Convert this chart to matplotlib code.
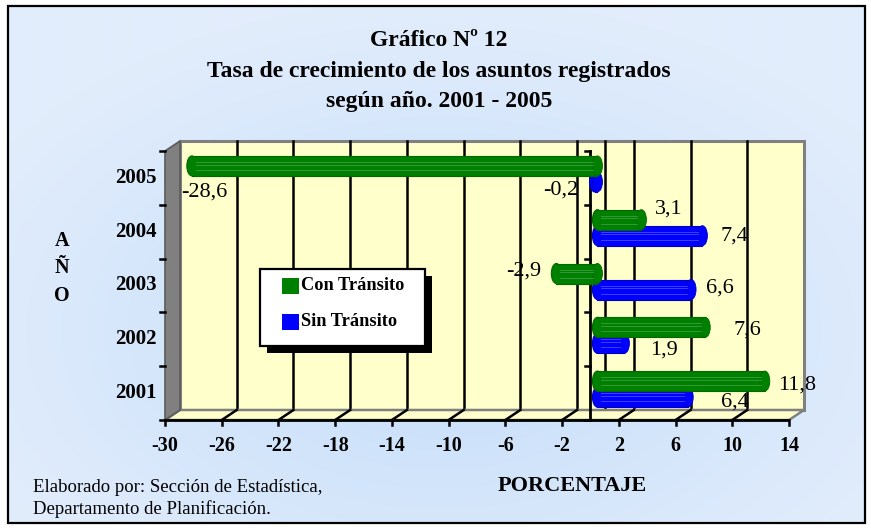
import numpy as np
import matplotlib
matplotlib.use('Agg')
import matplotlib.pyplot as plt
from matplotlib.patches import Rectangle, Polygon, Ellipse

# ---------------- data ----------------
years = ['2001', '2002', '2003', '2004', '2005']
con_transito = [11.8, 7.6, -2.9, 3.1, -28.6]
sin_transito = [6.4, 1.9, 6.6, 7.4, -0.2]
series_names = ['Con Tránsito', 'Sin Tránsito']
x_ticks = [-30, -26, -22, -18, -14, -10, -6, -2, 2, 6, 10, 14]
title_lines = ['Gráfico Nº 12',
               'Tasa de crecimiento de los asuntos registrados',
               'según año. 2001 - 2005']
x_label = 'PORCENTAJE'
y_label = ['A', 'Ñ', 'O']
source_lines = ['Elaborado por: Sección de Estadística,',
                'Departamento de Planificación.']

# ---------------- style ----------------
W, H, DPI = 871, 531, 100
SERIF = ['Liberation Serif', 'DejaVu Serif']
GREEN, GREEN_E, GREEN_H = '#008000', '#006a00', '#3d9d3d'
BLUE, BLUE_E, BLUE_H = '#0000FF', '#0000C0', '#4a4aff'
YELLOW = '#FFFFCC'
GRAY = '#808080'

# label offsets (px right, px down) from bar end; ha
con_lab = [(13, 4, 'left'), (28, 3, 'left'), (-15, -2, 'right'), (14, -11, 'left'), (-11, 26, 'left')]
sin_lab = [(33, 5, 'left'), (26, 7, 'left'), (15, -1, 'left'), (18, 0, 'left'), (-16, 8, 'right')]

fig = plt.figure(figsize=(W / DPI, H / DPI), dpi=DPI)
fig.patch.set_facecolor('white')

# background axes in pixel coordinates
bg = fig.add_axes([0, 0, 1, 1])
BX0, BX1, BY0, BY1 = 8, 865, 6, 523
yy, xx = np.mgrid[BY0:BY1, BX0:BX1]
r = np.sqrt(((xx - 440) / 520.0) ** 2 + ((yy - 330) / 330.0) ** 2)
r = np.clip(r, 0, 1) ** 0.8
c0 = np.array([192, 219, 249]) / 255.0
c1 = np.array([226, 237, 252]) / 255.0
img = c0[None, None, :] * (1 - r[..., None]) + c1[None, None, :] * r[..., None]
bg.imshow(img, extent=(BX0, BX1, BY1, BY0), zorder=0, aspect='auto', interpolation='bilinear')
bg.add_patch(Rectangle((BX0, BY0), BX1 - BX0, BY1 - BY0, fill=False, ec='black', lw=1.6, zorder=2))
bg.set_xlim(0, W)
bg.set_ylim(H, 0)
bg.axis('off')

# titles
for txt, y in zip(title_lines, [40, 71, 101]):
    bg.text(439, y, txt, ha='center', va='center', fontsize=17, fontweight='bold', family=SERIF)
for ch, y in zip(y_label, [241, 268, 296]):
    bg.text(62, y, ch, ha='center', va='center', fontsize=14.5, fontweight='bold', family=SERIF)
bg.text(572, 486, x_label, ha='center', va='center', fontsize=16, fontweight='bold', family=SERIF)
for txt, y in zip(source_lines, [487, 509]):
    bg.text(33, y, txt, ha='left', va='center', fontsize=13.5, family=SERIF)

# ---------------- main (front plane) axes ----------------
AX_L, AX_R, AX_T, AX_B = 165, 789, 151, 420
ax = fig.add_axes([AX_L / W, 1 - AX_B / H, (AX_R - AX_L) / W, (AX_B - AX_T) / H])
xmin, xmax = x_ticks[0], x_ticks[-1]
n = len(years)
ax.set_xlim(xmin, xmax)
ax.set_ylim(0.5, n + 0.5)
ax.axis('off')
px_x = (AX_R - AX_L) / (xmax - xmin)
px_y = (AX_B - AX_T) / n
DX, DY = 15 / px_x, 10 / px_y

# back wall
ax.add_patch(Rectangle((xmin + DX, 0.5 + DY), xmax - xmin, n, fc=YELLOW, ec=GRAY, lw=2.2,
                       clip_on=False, zorder=1))
for v in [t for t in x_ticks[1:-1]] + [0]:
    ax.plot([v + DX, v + DX], [0.5 + DY, n + 0.5 + DY], color='black', lw=1.8, clip_on=False, zorder=1.5)
# floor
ax.add_patch(Polygon([(xmin, 0.5), (xmax, 0.5), (xmax + DX, 0.5 + DY), (xmin + DX, 0.5 + DY)],
                     closed=True, fc=YELLOW, ec=GRAY, lw=1.8, clip_on=False, zorder=2))
for v in x_ticks[1:-1]:
    ax.plot([v, v + DX], [0.5, 0.5 + DY], color='black', lw=1.8, clip_on=False, zorder=2.5)
# left wall
ax.add_patch(Polygon([(xmin, 0.5), (xmin, n + 0.5), (xmin + DX, n + 0.5 + DY), (xmin + DX, 0.5 + DY)],
                     closed=True, fc=GRAY, ec='#5a5a5a', lw=1.2, clip_on=False, zorder=2))
# front floor edge + ticks
ax.plot([xmin, xmax], [0.5, 0.5], color='black', lw=2, clip_on=False, zorder=3,
        solid_capstyle='butt')
for v in x_ticks:
    ax.plot([v, v], [0.5, 0.5 - 5 / px_y], color='black', lw=1.8, clip_on=False, zorder=3)
    ax.text(v, 0.5 - 26 / px_y, f'{v}', ha='center', va='center', fontsize=14.5,
            fontweight='bold', family=SERIF)
# left ticks & zero axis
bounds = np.arange(0.5, n + 0.51, 1.0)
ax.plot([0, 0], [0.5, n + 0.5], color='black', lw=2, clip_on=False, zorder=3)
for b in bounds:
    ax.plot([xmin - 5 / px_x, xmin], [b, b], color='black', lw=1.8, clip_on=False, zorder=3)
    ax.plot([-5 / px_x, 0], [b, b], color='black', lw=1.8, clip_on=False, zorder=3)
for i, y in enumerate(years):
    ax.text(xmin - 8 / px_x, i + 1, y, ha='right', va='center', fontsize=15,
            fontweight='bold', family=SERIF)

# ---------------- cylinders ----------------
BXO = 7 / px_x
CAPW = 10 / px_x
BH = 20 / px_y
OFF_CON, OFF_SIN = 12 / px_y, -4 / px_y


def cylinder(v, yc, color, edge, hl, z):
    x0, x1 = BXO, BXO + v
    lo, hi = min(x0, x1), max(x0, x1)
    ax.add_patch(Ellipse((lo, yc), CAPW, BH, fc=color, ec=edge, lw=0.8, clip_on=False, zorder=z))
    ax.add_patch(Rectangle((lo, yc - BH / 2), hi - lo, BH, fc=color, ec='none', clip_on=False, zorder=z))
    ax.plot([lo, hi], [yc + BH / 2, yc + BH / 2], color=edge, lw=0.8, clip_on=False, zorder=z)
    ax.plot([lo, hi], [yc - BH / 2, yc - BH / 2], color=edge, lw=0.8, clip_on=False, zorder=z)
    ax.add_patch(Ellipse((hi, yc), CAPW, BH, fc=color, ec=edge, lw=0.6, clip_on=False, zorder=z))
    if hi - lo > CAPW:
        for f in (0.2, 0.07, -0.2):
            ax.plot([lo + CAPW * 0.4, hi - CAPW * 0.4], [yc + f * BH] * 2, color=hl, lw=0.6,
                    clip_on=False, zorder=z)


def fmt(v):
    return f'{v:.1f}'.replace('.', ',')


for i in range(n):
    cylinder(sin_transito[i], i + 1 + OFF_SIN, BLUE, BLUE_E, BLUE_H, 5 + i * 0.1)
    cylinder(con_transito[i], i + 1 + OFF_CON, GREEN, GREEN_E, GREEN_H, 5.05 + i * 0.1)

for i in range(n):
    for vals, labs, off in ((con_transito, con_lab, OFF_CON), (sin_transito, sin_lab, OFF_SIN)):
        v = vals[i]
        dx, dy, ha = labs[i]
        ax.annotate(fmt(v), xy=(BXO + v, i + 1 + off), xytext=(dx * 0.72, -dy * 0.72),
                    textcoords='offset points', ha=ha, va='center', fontsize=16,
                    family=SERIF, zorder=8, annotation_clip=False)

# ---------------- legend (overlay axes) ----------------
ov = fig.add_axes([0, 0, 1, 1])
ov.set_xlim(0, W)
ov.set_ylim(H, 0)
ov.axis('off')
LX, LY, LW, LH = 260, 269, 165, 77
ov.add_patch(Rectangle((LX + 7, LY + 7), LW, LH, fc='black', ec='none', zorder=5))
ov.add_patch(Rectangle((LX, LY), LW, LH, fc='white', ec='black', lw=1.6, zorder=6))
for name, col, y in zip(series_names, [GREEN, BLUE], [286, 322]):
    ov.add_patch(Rectangle((282, y - 8), 17, 16, fc=col, ec='none', zorder=7))
    ov.text(301, y, name, ha='left', va='center', fontsize=13.2, fontweight='bold',
            family=SERIF, zorder=7)

fig.savefig('out.png', dpi=DPI)
